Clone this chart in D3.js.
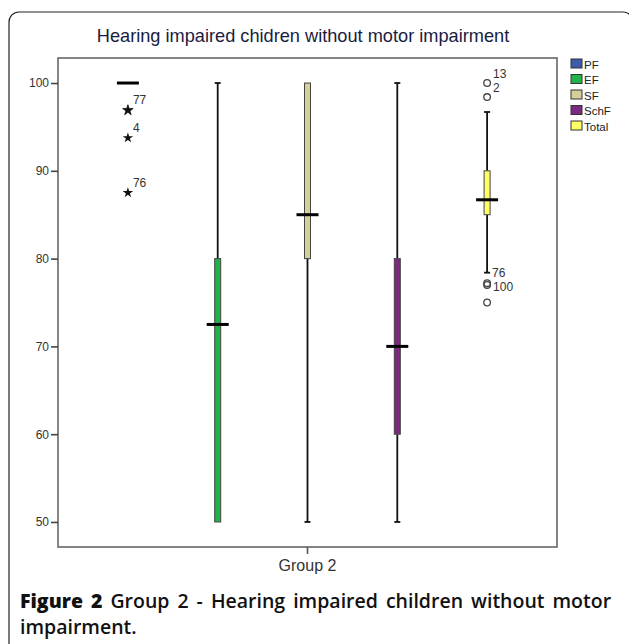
<!DOCTYPE html>
<html><head><meta charset="utf-8">
<script src="https://cdn.jsdelivr.net/npm/d3@7"></script>
<style>body{margin:0;background:#fff}svg{display:block}</style>
</head><body>
<script>
// ---- data ----
const groups = ["Group 2"];
const series = ["PF", "EF", "SF", "SchF", "Total"];
const colors = ["#3d5baa", "#22b24a", "#d5cf9a", "#7b2a80", "#ffff66"];
const q1 = [100, 50, 80, 60, 85];
const medians = [100, 72.5, 85, 70, 86.7];
const q3 = [100, 80, 100, 80, 90];
const whiskerLow = [100, 50, 50, 50, 78.4];
const whiskerHigh = [100, 100, 100, 100, 96.7];
// extreme values (stars) and outliers (circles)
const extremes = [
  {series: "PF", value: 96.9, label: "77"},
  {series: "PF", value: 93.75, label: "4"},
  {series: "PF", value: 87.5, label: "76"}
];
const outliers = [
  {series: "Total", value: 100, label: "13"},
  {series: "Total", value: 98.4, label: "2"},
  {series: "Total", value: 77.2, label: "100"},
  {series: "Total", value: 77.0, label: ""},
  {series: "Total", value: 75.0, label: ""}
];
const caseLabels = [{series: "Total", value: 78.4, label: "76"}];
const yTicks = [50, 60, 70, 80, 90, 100];
const title = "Hearing impaired chidren without motor impairment";

// ---- layout ----
const W = 629, H = 644;
const svg = d3.select("body").append("svg").attr("width", W).attr("height", H);
svg.append("rect").attr("width", W).attr("height", H).attr("fill", "#fff");
svg.append("rect").attr("x", 9).attr("y", 12).attr("width", 624).attr("height", 700)
  .attr("rx", 10).attr("fill", "none").attr("stroke", "#222").attr("stroke-width", 1.2);

const plot = {l: 58, r: 557, t: 58, b: 547};
const y = d3.scaleLinear().domain([47.15, 102.85]).range([plot.b, plot.t]);
const xg = d3.scaleBand().domain(groups).range([plot.l, plot.r]);
const xs = d3.scaleBand().domain(series).range([83, 532]);
const cx = s => xs(s) + xs.bandwidth() / 2;

// title
svg.append("text").attr("x", 303).attr("y", 42).attr("text-anchor", "middle")
  .attr("font-family", "Liberation Sans, Arial, sans-serif").attr("font-size", 18.2)
  .attr("fill", "#1a1c40").text(title);

// frame
svg.append("rect").attr("x", plot.l).attr("y", plot.t).attr("width", plot.r - plot.l)
  .attr("height", plot.b - plot.t).attr("fill", "none").attr("stroke", "#666").attr("stroke-width", 1.6);

// y axis
const yAxis = svg.append("g").attr("transform", `translate(${plot.l},0)`)
  .call(d3.axisLeft(y).tickValues(yTicks).tickSize(7).tickSizeOuter(0).tickPadding(2));
yAxis.select(".domain").remove();
yAxis.selectAll("line").attr("stroke", "#444").attr("stroke-width", 1.6);
yAxis.selectAll("text").attr("font-family", "Liberation Sans, Arial, sans-serif")
  .attr("font-size", 12).attr("fill", "#333");

// x axis
const xAxis = svg.append("g").attr("transform", `translate(0,${plot.b})`)
  .call(d3.axisBottom(xg).tickSize(7).tickPadding(6));
xAxis.select(".domain").remove();
xAxis.selectAll("line").attr("stroke", "#555").attr("stroke-width", 1.6);
xAxis.selectAll("text").attr("font-family", "Liberation Sans, Arial, sans-serif")
  .attr("font-size", 16).attr("fill", "#333");

// boxes
const g = svg.append("g");
series.forEach((s, i) => {
  const x = cx(s);
  const bw = 6, mw = 22, cw = 6;
  if (whiskerHigh[i] > q3[i]) {
    g.append("line").attr("x1", x).attr("x2", x).attr("y1", y(whiskerHigh[i])).attr("y2", y(q3[i]))
      .attr("stroke", "#111").attr("stroke-width", 1.8);
    g.append("line").attr("x1", x - cw / 2).attr("x2", x + cw / 2).attr("y1", y(whiskerHigh[i])).attr("y2", y(whiskerHigh[i]))
      .attr("stroke", "#111").attr("stroke-width", 1.8);
  }
  if (whiskerLow[i] < q1[i]) {
    g.append("line").attr("x1", x).attr("x2", x).attr("y1", y(q1[i])).attr("y2", y(whiskerLow[i]))
      .attr("stroke", "#111").attr("stroke-width", 1.8);
    g.append("line").attr("x1", x - cw / 2).attr("x2", x + cw / 2).attr("y1", y(whiskerLow[i])).attr("y2", y(whiskerLow[i]))
      .attr("stroke", "#111").attr("stroke-width", 1.8);
  }
  if (q3[i] > q1[i]) {
    g.append("rect").attr("x", x - bw / 2).attr("y", y(q3[i])).attr("width", bw)
      .attr("height", y(q1[i]) - y(q3[i])).attr("fill", colors[i]).attr("stroke", "#444").attr("stroke-width", 1);
  }
  g.append("line").attr("x1", x - mw / 2).attr("x2", x + mw / 2).attr("y1", y(medians[i])).attr("y2", y(medians[i]))
    .attr("stroke", "#000").attr("stroke-width", 3);
});

// extremes (stars)
const star = d3.symbol().type(d3.symbolStar).size(34);
extremes.forEach((d, k) => {
  const x = cx(d.series), yy = y(d.value);
  g.append("path").attr("d", star).attr("transform", `translate(${x},${yy})`)
    .attr("fill", "#111").attr("stroke", k === 0 ? "#111" : "none").attr("stroke-width", 0.8);
  g.append("text").attr("x", x + 5).attr("y", yy - 6)
    .attr("font-family", "Liberation Sans, Arial, sans-serif").attr("font-size", 12).attr("fill", "#333").text(d.label);
});

// outliers (circles)
outliers.forEach(d => {
  const x = cx(d.series), yy = y(d.value);
  g.append("circle").attr("cx", x).attr("cy", yy).attr("r", 3.3)
    .attr("fill", "none").attr("stroke", "#444").attr("stroke-width", 1.3);
  if (d.label) {
    const up = d.value > 90;
    g.append("text").attr("x", x + 6).attr("y", up ? yy - 5 : yy + 8)
      .attr("font-family", "Liberation Sans, Arial, sans-serif").attr("font-size", 12).attr("fill", "#333").text(d.label);
  }
});
caseLabels.forEach(d => {
  g.append("text").attr("x", cx(d.series) + 5).attr("y", y(d.value) + 4)
    .attr("font-family", "Liberation Sans, Arial, sans-serif").attr("font-size", 12).attr("fill", "#333").text(d.label);
});

// legend
const lg = svg.append("g").attr("transform", "translate(571,59)");
series.forEach((s, i) => {
  const row = lg.append("g").attr("transform", `translate(0,${i * 15.5})`);
  row.append("rect").attr("width", 11).attr("height", 9).attr("fill", colors[i]).attr("stroke", "#333").attr("stroke-width", 1);
  row.append("text").attr("x", 13).attr("y", 9.5).attr("font-family", "Liberation Sans, Arial, sans-serif")
    .attr("font-size", 11.5).attr("fill", "#222").text(s);
});

// caption (justified first line)
const cap = svg.append("text").attr("x", 20).attr("y", 608)
  .attr("font-family", "Open Sans, sans-serif").attr("font-size", 19.5).attr("font-weight", 600).attr("fill", "#111");
cap.append("tspan").attr("font-weight", 800).text("Figure 2");
cap.append("tspan").text(" Group 2 - Hearing impaired children without motor");
const natural = cap.node().getComputedTextLength();
const spaces = 10;
cap.attr("word-spacing", Math.max(0, (594 - natural) / spaces));
svg.append("text").attr("x", 20).attr("y", 634)
  .attr("font-family", "Open Sans, sans-serif").attr("font-size", 19.5).attr("font-weight", 600).attr("fill", "#111").text("impairment.");
</script>
</body></html>
